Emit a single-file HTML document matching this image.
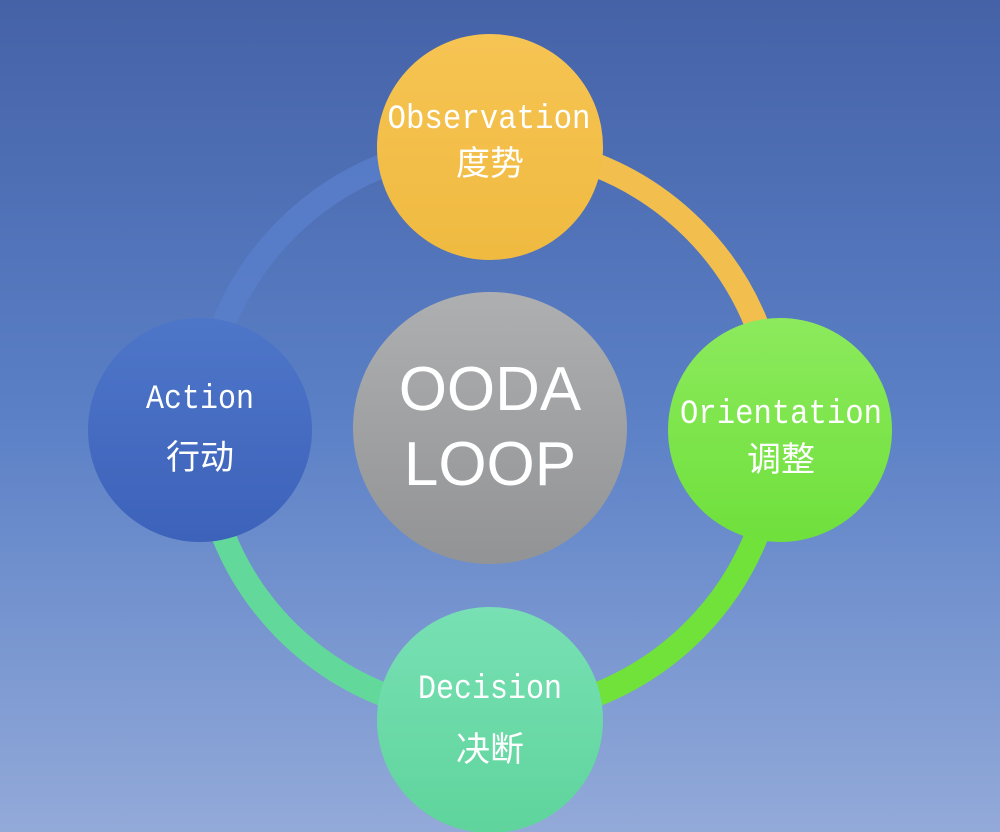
<!DOCTYPE html>
<html><head><meta charset="utf-8"><style>
html,body{margin:0;padding:0;width:1000px;height:832px;overflow:hidden}
</style></head><body>
<svg width="1000" height="832" viewBox="0 0 1000 832" xmlns="http://www.w3.org/2000/svg">
<defs>
<linearGradient id="bg" x1="0" y1="0" x2="0" y2="1">
<stop offset="0" stop-color="#4562a7"/><stop offset="0.5" stop-color="#5b80c6"/><stop offset="1" stop-color="#93aad9"/>
</linearGradient>
<linearGradient id="gy" x1="0" y1="0" x2="0" y2="1"><stop offset="0" stop-color="#aeafb1"/><stop offset="1" stop-color="#929395"/></linearGradient>
<linearGradient id="ob" x1="0" y1="0" x2="0" y2="1"><stop offset="0" stop-color="#f6c453"/><stop offset="1" stop-color="#f0ba40"/></linearGradient>
<linearGradient id="or" x1="0" y1="0" x2="0" y2="1"><stop offset="0" stop-color="#8cea5c"/><stop offset="1" stop-color="#6fe03c"/></linearGradient>
<linearGradient id="de" x1="0" y1="0" x2="0" y2="1"><stop offset="0" stop-color="#78e0b4"/><stop offset="1" stop-color="#5fd49c"/></linearGradient>
<linearGradient id="ac" x1="0" y1="0" x2="0" y2="1"><stop offset="0" stop-color="#4e76c8"/><stop offset="1" stop-color="#3c62ba"/></linearGradient>
</defs>
<rect width="1000" height="832" fill="url(#bg)"/>
<g fill="none" stroke-width="24">
<path d="M490 145 A287 285 0 0 1 777 430" stroke="#f2bf4f"/>
<path d="M777 430 A287 285 0 0 1 490 715" stroke="#70e23a"/>
<path d="M490 715 A287 285 0 0 1 203 430" stroke="#62d99a"/>
<path d="M203 430 A287 285 0 0 1 490 145" stroke="#5a7fcc" stroke-opacity="0.8"/>
</g>
<ellipse cx="490" cy="428" rx="137" ry="136" fill="url(#gy)"/>
<circle cx="490" cy="147" r="113" fill="url(#ob)"/>
<circle cx="780" cy="430" r="112" fill="url(#or)"/>
<circle cx="490" cy="720" r="113" fill="url(#de)"/>
<circle cx="200" cy="430" r="112" fill="url(#ac)"/>
<g fill="#fff" text-anchor="middle">
<text x="490" y="410" font-family="Liberation Sans, sans-serif" font-size="62">OODA</text>
<text x="490" y="485" font-family="Liberation Sans, sans-serif" font-size="62">LOOP</text>
<g font-family="Liberation Mono, monospace" font-size="30">
<text transform="translate(489 128) scale(1 1.15)" textLength="203" lengthAdjust="spacingAndGlyphs">Observation</text>
<text transform="translate(781 423) scale(1 1.15)" textLength="202" lengthAdjust="spacingAndGlyphs">Orientation</text>
<text transform="translate(490 698) scale(1 1.15)">Decision</text>
<text transform="translate(200 408) scale(1 1.15)">Action</text>
</g>
<g font-family="Noto Sans CJK SC, sans-serif" font-size="34">
<text x="490" y="175">度势</text>
<text x="781" y="471">调整</text>
<text x="490" y="761">决断</text>
<text x="200" y="469">行动</text>
</g>
</g>
</svg>
</body></html>
